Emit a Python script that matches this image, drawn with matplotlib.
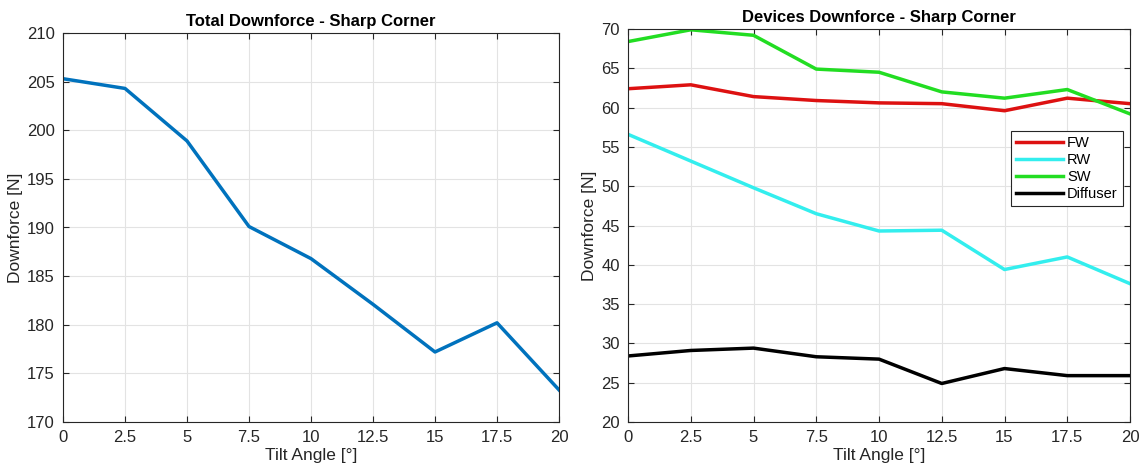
import matplotlib.pyplot as plt
import numpy as np

plt.rcParams['font.family'] = ['Liberation Sans', 'DejaVu Sans']

tilt = [0, 2.5, 5, 7.5, 10, 12.5, 15, 17.5, 20]
total = [205.3, 204.3, 198.9, 190.1, 186.8, 182.1, 177.2, 180.2, 173.3]

fw = [62.4, 62.9, 61.4, 60.9, 60.6, 60.5, 59.6, 61.2, 60.5]
rw = [56.6, 53.2, 49.8, 46.5, 44.3, 44.4, 39.4, 41.0, 37.6]
sw = [68.4, 69.9, 69.2, 64.9, 64.5, 62.0, 61.2, 62.3, 59.2]
diffuser = [28.4, 29.1, 29.4, 28.3, 28.0, 24.9, 26.8, 25.9, 25.9]

xticks = [0, 2.5, 5, 7.5, 10, 12.5, 15, 17.5, 20]
xlabels = ['0', '2.5', '5', '7.5', '10', '12.5', '15', '17.5', '20']


def style(ax):
    ax.grid(True, color='#e3e3e3', linewidth=0.8)
    ax.set_axisbelow(True)
    ax.tick_params(direction='in', top=True, right=True, labelsize=12,
                   colors='#262626', length=4, pad=6)
    for s in ax.spines.values():
        s.set_color('#262626')
        s.set_linewidth(0.8)
    ax.set_xticks(xticks)
    ax.set_xticklabels(xlabels)
    ax.set_xlim(0, 20)
    ax.set_xlabel('Tilt Angle [°]', fontsize=12.5, color='#262626',
                  labelpad=2)
    ax.set_ylabel('Downforce [N]', fontsize=12.5, color='#262626',
                  labelpad=3)


fig = plt.figure(figsize=(11.42, 4.72), dpi=100)

ax1 = fig.add_axes([63 / 1142, 50 / 472, 496 / 1142, 389 / 472])
ax1.plot(tilt, total, color='#0072BD', linewidth=2.5)
ax1.set_ylim(170, 210)
ax1.set_yticks(np.arange(170, 211, 5))
ax1.set_title('Total Downforce - Sharp Corner', fontsize=12,
              fontweight='bold', pad=5)
style(ax1)

ax2 = fig.add_axes([628 / 1142, 50 / 472, 502 / 1142, 393 / 472])
ax2.plot(tilt, fw, color='#DD1111', linewidth=2.5, label='FW')
ax2.plot(tilt, rw, color='#33EEEE', linewidth=2.5, label='RW')
ax2.plot(tilt, sw, color='#22DD22', linewidth=2.5, label='SW')
ax2.plot(tilt, diffuser, color='black', linewidth=2.5, label='Diffuser')
ax2.set_ylim(20, 70)
ax2.set_yticks(np.arange(20, 71, 5))
ax2.set_title('Devices Downforce - Sharp Corner', fontsize=12,
              fontweight='bold', pad=5)
style(ax2)
leg = ax2.legend(loc='upper right', bbox_to_anchor=(0.986, 0.74),
                 fontsize=10.5, fancybox=False, framealpha=1,
                 handlelength=3.2, borderpad=0.35, labelspacing=0.2,
                 handletextpad=0.3, borderaxespad=0)
leg.get_frame().set_edgecolor('#262626')
leg.get_frame().set_linewidth(0.8)

fig.savefig('out.png', dpi=100)
